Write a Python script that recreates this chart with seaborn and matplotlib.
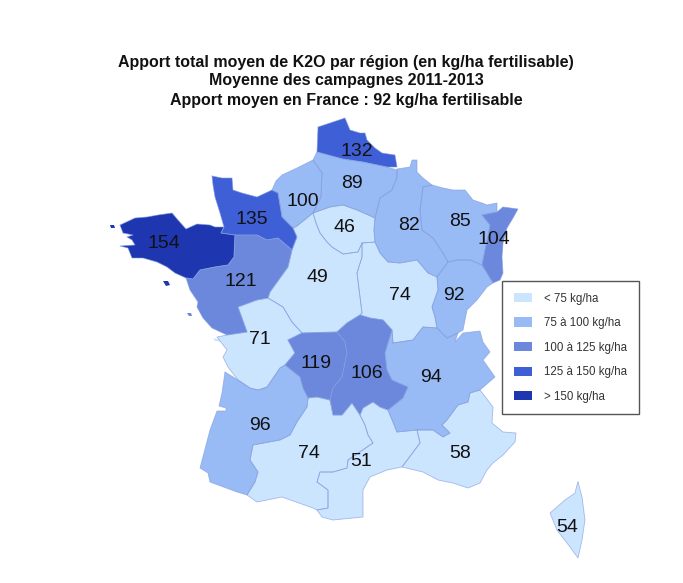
"""
Apport total moyen de K2O par region - choropleth from hand traced outlines
"""
import numpy as np
import pandas as pd
import matplotlib
matplotlib.use('Agg')
import matplotlib.pyplot as plt
from matplotlib.patches import Patch
import seaborn as sns

# ============================================================
# DATA
# ============================================================
titles = ['Apport total moyen de K2O par région (en kg/ha fertilisable)',
          'Moyenne des campagnes 2011-2013',
          'Apport moyen en France : 92 kg/ha fertilisable']

regions = ['Nord', 'Picardie', 'HauteNormandie', 'Champagne', 'Lorraine', 'Alsace',
           'IDF', 'BasseNormandie', 'Bretagne', 'Loire', 'Centre', 'Bourgogne',
           'FrancheComte', 'Poitou', 'Limousin', 'Auvergne', 'RhoneAlpes',
           'Aquitaine', 'MidiPyrenees', 'Languedoc', 'PACA', 'Corse']
values = [132, 89, 100, 82, 85, 104, 46, 135, 154, 121, 49, 74, 92, 71, 119, 106, 94, 96, 74, 51, 58, 54]

class_edges = [0, 75, 100, 125, 150, 1000]
class_labels = ['< 75 kg/ha', '75 à 100 kg/ha', '100 à 125 kg/ha', '125 à 150 kg/ha', '> 150 kg/ha']
class_colors = ['#CCE5FF', '#99BBF5', '#6B88DC', '#3F5FD6', '#1E37B0']

# traced outlines, in picture pixels
outlines = {
    'Nord': [(318,127),(345,118),(350,130),(360,133),(365,133),(367,140),(375,148),(382,153),(395,155),(397,167),(387,167),(363,162),(343,159),(328,155),(317,152)],
    'Picardie': [(317,152),(328,155),(343,159),(363,162),(387,167),(397,170),(397,177),(392,190),(380,198),(375,218),(357,210),(343,205),(330,207),(313,213),(321,197),(322,173),(313,160)],
    'HauteNormandie': [(278,193),(272,190),(276,181),(282,175),(297,168),(313,160),(322,173),(321,197),(313,213),(297,226),(293,228),(282,217)],
    'Champagne': [(397,169),(410,167),(412,160),(417,160),(417,172),(423,178),(432,185),(423,187),(420,210),(422,230),(433,238),(443,253),(448,262),(437,277),(428,273),(417,260),(400,263),(388,262),(380,253),(375,242),(374,230),(375,218),(380,198),(392,190),(397,177)],
    'Lorraine': [(432,185),(443,188),(453,190),(465,190),(473,200),(482,203),(487,205),(497,203),(497,212),(482,215),(490,225),(488,237),(485,250),(482,265),(470,260),(457,260),(448,262),(443,253),(433,238),(422,230),(420,210),(423,187)],
    'Alsace': [(482,215),(497,212),(503,207),(518,209),(513,218),(507,228),(503,243),(502,257),(503,273),(500,280),(493,283),(482,265),(485,250),(488,237),(490,225)],
    'IDF': [(313,213),(330,207),(343,205),(357,210),(375,218),(374,230),(375,242),(362,243),(358,252),(343,254),(332,247),(327,242),(320,233),(316,223)],
    'BasseNormandie': [(212,176),(222,178),(232,178),(233,190),(242,193),(257,197),(272,190),(278,193),(282,217),(293,228),(297,237),(292,250),(278,238),(267,240),(257,235),(235,235),(221,233),(224,227),(220,213),(215,197),(213,185)],
    'Bretagne': [(120,225),(135,218),(147,217),(158,215),(172,213),(178,220),(186,229),(197,224),(210,225),(215,227),(224,227),(221,233),(235,235),(234,257),(228,265),(215,267),(200,270),(193,279),(186,278),(175,273),(167,267),(157,262),(143,258),(132,258),(128,248),(120,246),(135,245),(132,240),(127,237),(133,235),(123,233)],
    'Loire': [(235,235),(257,235),(267,240),(278,238),(292,250),(288,267),(270,292),(268,298),(257,300),(238,307),(242,318),(247,332),(227,335),(212,328),(203,318),(197,307),(198,302),(190,290),(186,278),(193,279),(200,270),(215,267),(228,265),(234,257)],
    'Centre': [(293,228),(297,226),(313,213),(316,223),(320,233),(327,242),(332,247),(343,254),(358,252),(362,243),(362,257),(357,273),(360,297),(362,313),(360,315),(347,323),(337,332),(302,333),(292,322),(283,307),(268,298),(270,292),(288,267),(292,250),(297,237)],
    'Bourgogne': [(362,243),(375,242),(380,253),(388,262),(400,263),(417,260),(428,273),(437,277),(438,290),(432,307),(435,317),(437,328),(423,327),(413,340),(393,343),(392,330),(383,320),(370,318),(360,315),(362,313),(360,297),(357,273),(362,257)],
    'FrancheComte': [(448,262),(457,260),(470,260),(482,265),(493,283),(487,287),(477,300),(467,310),(463,330),(458,333),(447,338),(437,328),(435,317),(432,307),(438,290),(437,277)],
    'Poitou': [(238,307),(257,300),(268,298),(283,307),(292,322),(302,333),(288,340),(295,353),(285,365),(280,368),(267,387),(258,390),(250,388),(238,380),(228,367),(223,357),(227,350),(217,337),(227,335),(247,332),(242,318)],
    'Limousin': [(288,340),(302,333),(337,332),(345,342),(347,353),(342,377),(333,388),(330,400),(317,397),(308,398),(303,388),(300,377),(285,365),(295,353)],
    'Auvergne': [(337,332),(347,323),(360,315),(370,318),(383,320),(392,330),(388,343),(385,353),(387,370),(392,380),(408,387),(403,398),(388,410),(380,407),(373,402),(363,408),(360,415),(352,403),(342,415),(333,415),(330,400),(333,388),(342,377),(347,353),(345,342)],
    'RhoneAlpes': [(393,343),(413,340),(423,327),(437,328),(447,338),(458,333),(455,342),(463,333),(480,331),(483,342),(490,352),(483,360),(495,377),(480,390),(470,393),(468,402),(458,405),(447,420),(442,425),(450,433),(443,437),(433,430),(417,430),(397,432),(388,410),(403,398),(408,387),(392,380),(387,370),(385,353),(388,343),(392,330)],
    'Aquitaine': [(225,372),(238,380),(250,388),(258,390),(267,387),(280,368),(285,365),(300,377),(303,388),(308,398),(307,407),(297,422),(290,435),(280,440),(253,445),(250,460),(258,472),(255,482),(247,495),(237,492),(210,482),(208,473),(200,468),(210,430),(217,411),(226,411),(226,408),(219,406),(222,393)],
    'MidiPyrenees': [(330,400),(317,397),(308,398),(307,407),(297,422),(290,435),(280,440),(253,445),(250,460),(258,472),(255,482),(247,495),(257,502),(282,497),(313,508),(317,510),(328,508),(328,490),(317,482),(320,472),(333,472),(347,468),(348,460),(373,443),(368,435),(365,425),(360,415),(352,403),(342,415),(333,415)],
    'Languedoc': [(360,415),(363,408),(373,402),(380,407),(388,410),(397,432),(417,430),(420,443),(402,467),(387,470),(370,477),(363,490),(363,517),(333,520),(322,517),(317,510),(328,508),(328,490),(317,482),(320,472),(333,472),(347,468),(348,460),(373,443),(368,435),(365,425)],
    'PACA': [(417,430),(433,430),(443,437),(450,433),(442,425),(447,420),(458,405),(468,402),(470,393),(480,390),(493,407),(492,423),(503,432),(516,433),(515,442),(503,455),(493,463),(487,470),(480,483),(468,488),(453,483),(438,480),(423,472),(402,467),(420,443)],
    'Corse': [(578,482),(582,497),(585,520),(582,540),(578,558),(570,547),(557,530),(550,513),(565,500),(575,493),(577,485)],
}

# islands off the Atlantic coast: (region, outline)
islands = [('Bretagne', [(110,225),(114,225),(115,228),(111,228)]),
           ('Bretagne', [(163,281),(168,281),(170,285),(166,286)]),
           ('Poitou', [(213,338),(222,340),(224,342),(215,341)]),
           ('Loire', [(187,313),(191,313),(192,316),(189,316)])]

# label centres, in picture pixels, same order as regions
label_x = [357, 352, 303, 409, 460, 494, 344, 252, 164, 241, 317, 400, 454, 260, 316, 367, 431, 260, 309, 361, 460, 567]
label_y = [152, 184, 201, 226, 222, 239, 228, 219, 244, 282, 277, 295, 295, 340, 364, 373, 378, 426, 454, 461, 454, 527]

# ============================================================
# FIGURE
# ============================================================
sns.set_theme(style='white')
plt.rcParams['font.family'] = ['Liberation Sans', 'DejaVu Sans']

df = pd.DataFrame({'region': regions, 'value': values, 'x': label_x, 'y': label_y})
# upper edge belongs to the class: 100 is drawn as "75 a 100"
df['classe'] = pd.cut(df['value'], bins=class_edges, labels=class_labels, right=True)
color_map = dict(zip(class_labels, class_colors))
region_color = {r: color_map[c] for r, c in zip(df['region'], df['classe'])}

fig, ax = plt.subplots(figsize=(6.83, 5.83), dpi=100)
ax.set_position([0, 0, 1, 1])

# filled regions
for name, pts in outlines.items():
    xs, ys = zip(*pts)
    ax.fill(xs, ys, color=region_color[name], lw=0, zorder=1)
for name, pts in islands:
    xs, ys = zip(*pts)
    ax.fill(xs, ys, color=region_color[name], lw=0, zorder=1)

# region borders
rows = []
for name, pts in outlines.items():
    for px, py in pts + pts[:1]:
        rows.append({'region': name, 'x': px, 'y': py})
border_df = pd.DataFrame(rows)
sns.lineplot(data=border_df, x='x', y='y', units='region', estimator=None, sort=False,
             color='#7F9BDD', lw=0.6, alpha=0.65, ax=ax, zorder=2, legend=False,
             solid_joinstyle='round')

# values on the regions
for _, row in df.iterrows():
    ax.text(row['x'], row['y'], str(row['value']), ha='center', va='center',
            fontsize=14, color='#111111', zorder=3)

# title lines
for line, ty in zip(titles, [62, 81, 100]):
    ax.text(346, ty, line, ha='center', va='center', fontsize=11.5, fontweight='bold', color='#111111')

handles = [Patch(facecolor=c, edgecolor='none', label=l) for c, l in zip(class_colors, class_labels)]
leg = ax.legend(handles=handles, loc='upper left', bbox_to_anchor=(502, 281),
                bbox_transform=ax.transData, borderaxespad=0, fontsize=8.3,
                handlelength=1.56, handleheight=0.87, handletextpad=1.1,
                labelspacing=1.09, borderpad=1.0, fancybox=False,
                frameon=True, framealpha=1, edgecolor='#555555')
leg.get_frame().set_linewidth(1.0)
for t in leg.get_texts():
    t.set_color('#333333')

ax.set_xlim(0, 683)
ax.set_ylim(583, 0)
ax.set_xlabel('')
ax.set_ylabel('')
ax.axis('off')

plt.savefig('out.png', dpi=100)
plt.close()
